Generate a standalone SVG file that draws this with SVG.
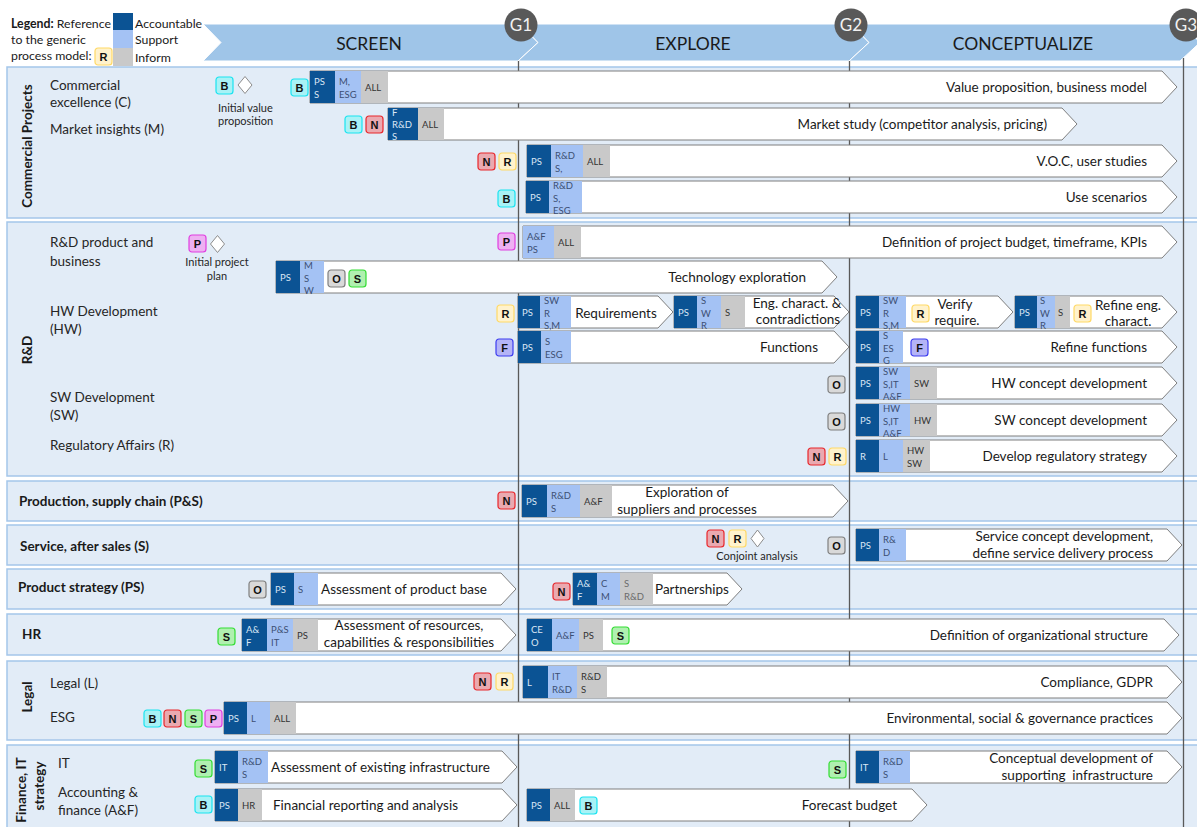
<svg xmlns="http://www.w3.org/2000/svg" width="1197" height="827" viewBox="0 0 1197 827">
<style>
text{font-family:Lato,"Liberation Sans",sans-serif}
.lane{fill:#e2ecf7;stroke:#a4c6ea;stroke-width:1.5}
.gl{stroke:#595959;stroke-width:1.3}
.bar{fill:#fff;stroke:#7f7f7f;stroke-width:1}
.a{fill:#0b5394}.s{fill:#a4c2f4}.i{fill:#c9c9c9}
.bt{font-size:9.5px}
.ta{fill:#dbe7f5}.ts{fill:#3c4f73}.ti{fill:#333}
.lbl{font-size:13.5px;fill:#1a1a1a}
.end{text-anchor:end}.mid{text-anchor:middle}
.row{font-size:13.5px;fill:#262626}
.lt{font-size:13.5px;font-weight:bold;fill:#1a1a1a}
.bd rect{stroke-width:1.2}
.bd text{font-family:"Liberation Sans",Arial,sans-serif;font-weight:bold;font-size:11px;text-anchor:middle;fill:#111}
.B rect{fill:#a8f2f6;stroke:#19e3f0}
.N rect{fill:#eaa9b0;stroke:#e8262b}
.R rect{fill:#fff2cc;stroke:#ffd966}
.P rect{fill:#eeb0f2;stroke:#e03ee0}
.S rect{fill:#b0f0b0;stroke:#33dd33}
.O rect{fill:#d9d9d9;stroke:#7f7f7f}
.F rect{fill:#b4b4f7;stroke:#3c3cf0}
.dia{fill:#fff;stroke:#8c8c8c;stroke-width:1}
.note{font-size:11px;fill:#262626}
.ph{font-size:17.5px;fill:#1a1a1a;text-anchor:middle}
.gate circle{fill:#595959}
.gate text{font-size:17px;fill:#f2f2f2;text-anchor:middle}
.lg{font-size:12.3px;fill:#1a1a1a}
</style>

<g id="legend">
<text class="lg" x="11" y="28"><tspan font-weight="bold">Legend:</tspan> Reference</text>
<text class="lg" x="11" y="44">to the generic</text>
<text class="lg" x="11" y="60">process model:</text>
<g class="bd R" transform="translate(95,48)"><rect width="17" height="17" rx="3"/><text x="8.5" y="12.5">R</text></g>
<rect class="a" x="113" y="13" width="20" height="17"/>
<rect class="s" x="113" y="30" width="20" height="18"/>
<rect class="i" x="113" y="48" width="20" height="18"/>
<text class="lg" x="135" y="28">Accountable</text>
<text class="lg" x="135" y="44">Support</text>
<text class="lg" x="135" y="62">Inform</text>
</g>

<g id="phases">
<polygon points="203,24 520,24 538,42.5 518,61 203,61 221,42.5" fill="#9fc5e8" stroke="#fff" stroke-width="1"/>
<polygon points="520,24 851,24 869,42.5 849,61 518,61 538,42.5" fill="#9fc5e8" stroke="#fff" stroke-width="1"/>
<polygon points="851,24 1182,24 1200,42.5 1180,61 849,61 869,42.5" fill="#9fc5e8" stroke="#fff" stroke-width="1"/>
<text class="ph" x="369" y="50">SCREEN</text>
<text class="ph" x="693" y="50">EXPLORE</text>
<text class="ph" x="1023" y="50">CONCEPTUALIZE</text>
</g>

<g id="lanes">
<rect class="lane" x="7" y="67" width="1195" height="151"/>
<rect class="lane" x="7" y="222" width="1195" height="254"/>
<rect class="lane" x="7" y="481" width="1195" height="40"/>
<rect class="lane" x="7" y="525" width="1195" height="40"/>
<rect class="lane" x="7" y="569" width="1195" height="40"/>
<rect class="lane" x="7" y="614" width="1195" height="41"/>
<rect class="lane" x="7" y="661" width="1195" height="79"/>
<rect class="lane" x="7" y="745" width="1195" height="90"/>
<text class="lt mid" transform="translate(32,146) rotate(-90)">Commercial Projects</text>
<text class="lt mid" transform="translate(32,350) rotate(-90)">R&amp;D</text>
<text class="lt mid" transform="translate(32,697) rotate(-90)">Legal</text>
<text class="lt mid" transform="translate(26,790) rotate(-90)">Finance, IT</text>
<text class="lt mid" transform="translate(44,786) rotate(-90)">strategy</text>
<text class="lt" x="19" y="506">Production, supply chain (P&amp;S)</text>
<text class="lt" x="20" y="551">Service, after sales (S)</text>
<text class="lt" x="18" y="592">Product strategy (PS)</text>
<text class="lt" x="22" y="639">HR</text>
<text class="row" x="50" y="90">Commercial</text>
<text class="row" x="50" y="107">excellence (C)</text>
<text class="row" x="50" y="134">Market insights (M)</text>
<text class="row" x="50" y="247">R&amp;D product and</text>
<text class="row" x="50" y="266">business</text>
<text class="row" x="50" y="316">HW Development</text>
<text class="row" x="50" y="334">(HW)</text>
<text class="row" x="50" y="402">SW Development</text>
<text class="row" x="50" y="420">(SW)</text>
<text class="row" x="50" y="450">Regulatory Affairs (R)</text>
<text class="row" x="50" y="688">Legal (L)</text>
<text class="row" x="50" y="722">ESG</text>
<text class="row" x="58" y="768">IT</text>
<text class="row" x="58" y="797">Accounting &amp;</text>
<text class="row" x="58" y="815">finance (A&amp;F)</text>
</g>

<g id="connectors">
<line class="gl" x1="518.5" y1="61" x2="518.5" y2="827"/>
<line class="gl" x1="849.5" y1="61" x2="849.5" y2="827"/>
<line class="gl" x1="1183.5" y1="58" x2="1183.5" y2="827"/>
</g>

<g id="t-value-prop">
<path class="bar" d="M310,71 H1162 L1177,87 L1162,103 H310 Z"/>
<rect class="a" x="310" y="71" width="25" height="32"/><rect class="s" x="335" y="71" width="26" height="32"/><rect class="i" x="361" y="71" width="27" height="32"/>
<text class="bt ta" x="314" y="85">PS</text><text class="bt ta" x="314" y="98">S</text>
<text class="bt ts" x="339" y="85">M,</text><text class="bt ts" x="339" y="98">ESG</text>
<text class="bt ti" x="365" y="91">ALL</text>
<text class="lbl end" x="1147" y="92">Value proposition, business model</text>
</g>
<g id="m-initial-value">
<g class="bd B" transform="translate(216,77)"><rect width="17" height="17" rx="3"/><text x="8.5" y="12.5">B</text></g>
<path class="dia" d="M245,76.5 L252,85 L245,93.5 L238,85 Z"/>
<text class="note" x="218" y="112">Initial value</text>
<text class="note" x="218" y="125">proposition</text>
</g>
<g id="b-vp" class="bd B" transform="translate(291,79)"><rect width="17" height="17" rx="3"/><text x="8.5" y="12.5">B</text></g>

<g id="t-market-study">
<path class="bar" d="M388,108 H1062 L1077,124 L1062,140 H388 Z"/>
<rect class="a" x="388" y="108" width="30" height="32"/><rect class="i" x="418" y="108" width="26" height="32"/>
<text class="bt ta" x="392" y="116">F</text><text class="bt ta" x="392" y="128">R&amp;D</text><text class="bt ta" x="392" y="140">S</text>
<text class="bt ti" x="422" y="128">ALL</text>
<text class="lbl end" x="1047" y="129">Market study (competitor analysis, pricing)</text>
</g>
<g id="b-ms">
<g class="bd B" transform="translate(345,116)"><rect width="17" height="17" rx="3"/><text x="8.5" y="12.5">B</text></g>
<g class="bd N" transform="translate(366,116)"><rect width="17" height="17" rx="3"/><text x="8.5" y="12.5">N</text></g>
</g>

<g id="t-voc">
<path class="bar" d="M527,145 H1162 L1177,161 L1162,177 H527 Z"/>
<rect class="a" x="527" y="145" width="24" height="32"/><rect class="s" x="551" y="145" width="32" height="32"/><rect class="i" x="583" y="145" width="27" height="32"/>
<text class="bt ta" x="531" y="165">PS</text>
<text class="bt ts" x="555" y="159">R&amp;D</text><text class="bt ts" x="555" y="172">S,</text>
<text class="bt ti" x="587" y="165">ALL</text>
<text class="lbl end" x="1147" y="166">V.O.C, user studies</text>
</g>
<g id="b-voc">
<g class="bd N" transform="translate(478,153)"><rect width="17" height="17" rx="3"/><text x="8.5" y="12.5">N</text></g>
<g class="bd R" transform="translate(499,153)"><rect width="17" height="17" rx="3"/><text x="8.5" y="12.5">R</text></g>
</g>

<g id="t-use-scen">
<path class="bar" d="M526,181 H1162 L1177,197 L1162,213 H526 Z"/>
<rect class="a" x="526" y="181" width="23" height="32"/><rect class="s" x="549" y="181" width="33" height="32"/>
<text class="bt ta" x="530" y="201">PS</text>
<text class="bt ts" x="553" y="189">R&amp;D</text><text class="bt ts" x="553" y="201.5">S,</text><text class="bt ts" x="553" y="214">ESG</text>
<text class="lbl end" x="1147" y="202">Use scenarios</text>
</g>
<g id="b-us" class="bd B" transform="translate(498,190)"><rect width="17" height="17" rx="3"/><text x="8.5" y="12.5">B</text></g>

<g id="t-budget">
<path class="bar" d="M523,226 H1162 L1177,242 L1162,258 H523 Z"/>
<rect class="s" x="523" y="226" width="31" height="32"/><rect class="i" x="554" y="226" width="27" height="32"/>
<text class="bt ts" x="527" y="240">A&amp;F</text><text class="bt ts" x="527" y="253">PS</text>
<text class="bt ti" x="558" y="246">ALL</text>
<text class="lbl end" x="1147" y="247">Definition of project budget, timeframe, KPIs</text>
</g>
<g id="m-initial-plan">
<g class="bd P" transform="translate(189,235)"><rect width="17" height="17" rx="3"/><text x="8.5" y="12.5">P</text></g>
<path class="dia" d="M217.5,235.5 L224.5,244 L217.5,252.5 L210.5,244 Z"/>
<text class="note mid" x="217" y="266">Initial project</text>
<text class="note mid" x="217" y="280">plan</text>
</g>
<g id="b-bud" class="bd P" transform="translate(498,233)"><rect width="17" height="17" rx="3"/><text x="8.5" y="12.5">P</text></g>

<g id="t-tech">
<path class="bar" d="M276,261 H822 L837,277 L822,293 H276 Z"/>
<rect class="a" x="276" y="261" width="24" height="32"/><rect class="s" x="300" y="261" width="24" height="32"/>
<text class="bt ta" x="280" y="281">PS</text>
<text class="bt ts" x="304" y="269">M</text><text class="bt ts" x="304" y="281.5">S</text><text class="bt ts" x="304" y="294">W</text>
<g class="bd O" transform="translate(328,270)"><rect width="17" height="17" rx="3"/><text x="8.5" y="12.5">O</text></g>
<g class="bd S" transform="translate(349,270)"><rect width="17" height="17" rx="3"/><text x="8.5" y="12.5">S</text></g>
<text class="lbl end" x="806" y="282">Technology exploration</text>
</g>

<g id="t-req">
<path class="bar" d="M518,296 H658 L673,312 L658,328 H518 Z"/>
<rect class="a" x="518" y="296" width="22" height="32"/><rect class="s" x="540" y="296" width="31" height="32"/>
<text class="bt ta" x="522" y="316">PS</text>
<text class="bt ts" x="544" y="304">SW</text><text class="bt ts" x="544" y="316.5">R</text><text class="bt ts" x="544" y="329">S,M</text>
<text class="lbl mid" x="616" y="318">Requirements</text>
</g>
<g id="b-req" class="bd R" transform="translate(497,305)"><rect width="17" height="17" rx="3"/><text x="8.5" y="12.5">R</text></g>

<g id="t-eng">
<path class="bar" d="M674,296 H834 L849,312 L834,328 H674 Z"/>
<rect class="a" x="674" y="296" width="23" height="32"/><rect class="s" x="697" y="296" width="24" height="32"/><rect class="i" x="721" y="296" width="24" height="32"/>
<text class="bt ta" x="678" y="316">PS</text>
<text class="bt ts" x="701" y="304">S</text><text class="bt ts" x="701" y="316.5">W</text><text class="bt ts" x="701" y="329">R</text>
<text class="bt ti" x="725" y="316">S</text>
<text class="lbl mid" x="797" y="308">Eng. charact. &amp;</text>
<text class="lbl mid" x="798" y="324">contradictions</text>
</g>

<g id="t-verify">
<path class="bar" d="M856,296 H998 L1013,312 L998,328 H856 Z"/>
<rect class="a" x="856" y="296" width="23" height="32"/><rect class="s" x="879" y="296" width="27" height="32"/>
<text class="bt ta" x="860" y="316">PS</text>
<text class="bt ts" x="883" y="304">SW</text><text class="bt ts" x="883" y="316.5">R</text><text class="bt ts" x="883" y="329">S,M</text>
<g class="bd R" transform="translate(912,305)"><rect width="17" height="17" rx="3"/><text x="8.5" y="12.5">R</text></g>
<text class="lbl mid" x="955" y="309">Verify</text>
<text class="lbl mid" x="957" y="325">require.</text>
</g>

<g id="t-refine-eng">
<path class="bar" d="M1015,296 H1162 L1177,312 L1162,328 H1015 Z"/>
<rect class="a" x="1015" y="296" width="22" height="32"/><rect class="s" x="1037" y="296" width="18" height="32"/><rect class="i" x="1055" y="296" width="15" height="32"/>
<text class="bt ta" x="1019" y="316">PS</text>
<text class="bt ts" x="1040" y="304">S</text><text class="bt ts" x="1040" y="316.5">W</text><text class="bt ts" x="1040" y="329">R</text>
<text class="bt ti" x="1058" y="316">S</text>
<g class="bd R" transform="translate(1074,305)"><rect width="17" height="17" rx="3"/><text x="8.5" y="12.5">R</text></g>
<text class="lbl mid" x="1128" y="310">Refine eng.</text>
<text class="lbl mid" x="1128" y="326">charact.</text>
</g>

<g id="t-functions">
<path class="bar" d="M518,331 H834 L849,347 L834,363 H518 Z"/>
<rect class="a" x="518" y="331" width="23" height="32"/><rect class="s" x="541" y="331" width="30" height="32"/>
<text class="bt ta" x="522" y="351">PS</text>
<text class="bt ts" x="545" y="345">S</text><text class="bt ts" x="545" y="358">ESG</text>
<text class="lbl end" x="818" y="352">Functions</text>
</g>
<g id="b-fn" class="bd F" transform="translate(496,339)"><rect width="17" height="17" rx="3"/><text x="8.5" y="12.5">F</text></g>

<g id="t-refine-fn">
<path class="bar" d="M856,331 H1162 L1177,347 L1162,363 H856 Z"/>
<rect class="a" x="856" y="331" width="23" height="32"/><rect class="s" x="879" y="331" width="24" height="32"/>
<text class="bt ta" x="860" y="351">PS</text>
<text class="bt ts" x="883" y="339">S</text><text class="bt ts" x="883" y="351.5">ES</text><text class="bt ts" x="883" y="364">G</text>
<g class="bd F" transform="translate(911,339)"><rect width="17" height="17" rx="3"/><text x="8.5" y="12.5">F</text></g>
<text class="lbl end" x="1147" y="352">Refine functions</text>
</g>

<g id="t-hw-concept">
<path class="bar" d="M856,367 H1162 L1177,383 L1162,399 H856 Z"/>
<rect class="a" x="856" y="367" width="23" height="32"/><rect class="s" x="879" y="367" width="31" height="32"/><rect class="i" x="910" y="367" width="27" height="32"/>
<text class="bt ta" x="860" y="387">PS</text>
<text class="bt ts" x="883" y="375">SW</text><text class="bt ts" x="883" y="387.5">S,IT</text><text class="bt ts" x="883" y="400">A&amp;F</text>
<text class="bt ti" x="914" y="387">SW</text>
<text class="lbl end" x="1147" y="388">HW concept development</text>
</g>
<g id="b-hwc" class="bd O" transform="translate(828,376)"><rect width="17" height="17" rx="3"/><text x="8.5" y="12.5">O</text></g>

<g id="t-sw-concept">
<path class="bar" d="M856,404 H1162 L1177,420 L1162,436 H856 Z"/>
<rect class="a" x="856" y="404" width="23" height="32"/><rect class="s" x="879" y="404" width="31" height="32"/><rect class="i" x="910" y="404" width="27" height="32"/>
<text class="bt ta" x="860" y="424">PS</text>
<text class="bt ts" x="883" y="412">HW</text><text class="bt ts" x="883" y="424.5">S,IT</text><text class="bt ts" x="883" y="437">A&amp;F</text>
<text class="bt ti" x="914" y="424">HW</text>
<text class="lbl end" x="1147" y="425">SW concept development</text>
</g>
<g id="b-swc" class="bd O" transform="translate(828,413)"><rect width="17" height="17" rx="3"/><text x="8.5" y="12.5">O</text></g>

<g id="t-reg">
<path class="bar" d="M856,440 H1162 L1177,456 L1162,472 H856 Z"/>
<rect class="a" x="856" y="440" width="23" height="32"/><rect class="s" x="879" y="440" width="24" height="32"/><rect class="i" x="903" y="440" width="27" height="32"/>
<text class="bt ta" x="860" y="460">R</text>
<text class="bt ts" x="883" y="460">L</text>
<text class="bt ti" x="907" y="454">HW</text><text class="bt ti" x="907" y="467">SW</text>
<text class="lbl end" x="1147" y="461">Develop regulatory strategy</text>
</g>
<g id="b-reg">
<g class="bd N" transform="translate(808,448)"><rect width="17" height="17" rx="3"/><text x="8.5" y="12.5">N</text></g>
<g class="bd R" transform="translate(829,448)"><rect width="17" height="17" rx="3"/><text x="8.5" y="12.5">R</text></g>
</g>

<g id="t-suppliers">
<path class="bar" d="M522,485 H833 L848,501 L833,517 H522 Z"/>
<rect class="a" x="522" y="485" width="25" height="32"/><rect class="s" x="547" y="485" width="33" height="32"/><rect class="i" x="580" y="485" width="32" height="32"/>
<text class="bt ta" x="526" y="505">PS</text>
<text class="bt ts" x="551" y="499">R&amp;D</text><text class="bt ts" x="551" y="512">S</text>
<text class="bt ti" x="584" y="505">A&amp;F</text>
<text class="lbl mid" x="687" y="497">Exploration of</text>
<text class="lbl mid" x="687" y="514">suppliers and processes</text>
</g>
<g id="b-sup" class="bd N" transform="translate(498,492)"><rect width="17" height="17" rx="3"/><text x="8.5" y="12.5">N</text></g>

<g id="m-conjoint">
<g class="bd N" transform="translate(707,530)"><rect width="17" height="17" rx="3"/><text x="8.5" y="12.5">N</text></g>
<g class="bd R" transform="translate(729,530)"><rect width="17" height="17" rx="3"/><text x="8.5" y="12.5">R</text></g>
<path class="dia" d="M757.5,530 L764,538.5 L757.5,547 L751,538.5 Z"/>
<text class="note mid" x="757" y="560">Conjoint analysis</text>
</g>
<g id="b-svc" class="bd O" transform="translate(828,537)"><rect width="17" height="17" rx="3"/><text x="8.5" y="12.5">O</text></g>
<g id="t-service">
<path class="bar" d="M856,529 H1167 L1182,545 L1167,561 H856 Z"/>
<rect class="a" x="856" y="529" width="23" height="32"/><rect class="s" x="879" y="529" width="27" height="32"/>
<text class="bt ta" x="860" y="549">PS</text>
<text class="bt ts" x="883" y="543">R&amp;</text><text class="bt ts" x="883" y="556">D</text>
<text class="lbl end" x="1153" y="541">Service concept development,</text>
<text class="lbl end" x="1153" y="558">define service delivery process</text>
</g>

<g id="b-ps" class="bd O" transform="translate(249,581)"><rect width="17" height="17" rx="3"/><text x="8.5" y="12.5">O</text></g>
<g id="t-product-base">
<path class="bar" d="M271,573 H501 L516,589 L501,605 H271 Z"/>
<rect class="a" x="271" y="573" width="23" height="32"/><rect class="s" x="294" y="573" width="24" height="32"/>
<text class="bt ta" x="275" y="593">PS</text>
<text class="bt ts" x="298" y="593">S</text>
<text class="lbl" x="321" y="594">Assessment of product base</text>
</g>
<g id="b-part" class="bd N" transform="translate(553,583)"><rect width="17" height="17" rx="3"/><text x="8.5" y="12.5">N</text></g>
<g id="t-partnerships">
<path class="bar" d="M573,573 H727 L742,589 L727,605 H573 Z"/>
<rect class="a" x="573" y="573" width="24" height="32"/><rect class="s" x="597" y="573" width="23" height="32"/><rect class="i" x="620" y="573" width="33" height="32"/>
<text class="bt ta" x="577" y="587">A&amp;</text><text class="bt ta" x="577" y="600">F</text>
<text class="bt ts" x="601" y="587">C</text><text class="bt ts" x="601" y="600">M</text>
<text class="bt" x="624" y="587" fill="#6b6b6b">S</text><text class="bt" x="624" y="600" fill="#6b6b6b">R&amp;D</text>
<text class="lbl" x="655" y="594">Partnerships</text>
</g>

<g id="b-hr" class="bd S" transform="translate(218,628)"><rect width="17" height="17" rx="3"/><text x="8.5" y="12.5">S</text></g>
<g id="t-resources">
<path class="bar" d="M242,619 H501 L516,635 L501,651 H242 Z"/>
<rect class="a" x="242" y="619" width="25" height="32"/><rect class="s" x="267" y="619" width="26" height="32"/><rect class="i" x="293" y="619" width="25" height="32"/>
<text class="bt ta" x="246" y="633">A&amp;</text><text class="bt ta" x="246" y="646">F</text>
<text class="bt ts" x="271" y="633">P&amp;S</text><text class="bt ts" x="271" y="646">IT</text>
<text class="bt ti" x="297" y="639">PS</text>
<text class="lbl mid" x="409" y="630">Assessment of resources,</text>
<text class="lbl mid" x="409" y="647">capabilities &amp; responsibilities</text>
</g>
<g id="t-org">
<path class="bar" d="M527,619 H1164 L1179,635 L1164,651 H527 Z"/>
<rect class="a" x="527" y="619" width="25" height="32"/><rect class="s" x="552" y="619" width="27" height="32"/><rect class="i" x="579" y="619" width="24" height="32"/>
<text class="bt ta" x="531" y="633">CE</text><text class="bt ta" x="531" y="646">O</text>
<text class="bt ts" x="556" y="639">A&amp;F</text>
<text class="bt ti" x="583" y="639">PS</text>
<g class="bd S" transform="translate(612,627)"><rect width="17" height="17" rx="3"/><text x="8.5" y="12.5">S</text></g>
<text class="lbl end" x="1148" y="640">Definition of organizational structure</text>
</g>

<g id="b-legal">
<g class="bd N" transform="translate(474,673)"><rect width="17" height="17" rx="3"/><text x="8.5" y="12.5">N</text></g>
<g class="bd R" transform="translate(496,673)"><rect width="17" height="17" rx="3"/><text x="8.5" y="12.5">R</text></g>
</g>
<g id="t-compliance">
<path class="bar" d="M523,666 H1167 L1182,682 L1167,698 H523 Z"/>
<rect class="a" x="523" y="666" width="25" height="32"/><rect class="s" x="548" y="666" width="29" height="32"/><rect class="i" x="577" y="666" width="30" height="32"/>
<text class="bt ta" x="527" y="686">L</text>
<text class="bt ts" x="552" y="680">IT</text><text class="bt ts" x="552" y="693">R&amp;D</text>
<text class="bt ti" x="581" y="680">R&amp;D</text><text class="bt ti" x="581" y="693">S</text>
<text class="lbl end" x="1153" y="687">Compliance, GDPR</text>
</g>
<g id="b-esg">
<g class="bd B" transform="translate(144,710)"><rect width="17" height="17" rx="3"/><text x="8.5" y="12.5">B</text></g>
<g class="bd N" transform="translate(164,710)"><rect width="17" height="17" rx="3"/><text x="8.5" y="12.5">N</text></g>
<g class="bd S" transform="translate(185,710)"><rect width="17" height="17" rx="3"/><text x="8.5" y="12.5">S</text></g>
<g class="bd P" transform="translate(205,710)"><rect width="17" height="17" rx="3"/><text x="8.5" y="12.5">P</text></g>
</g>
<g id="t-esg">
<path class="bar" d="M224,702 H1167 L1182,718 L1167,734 H224 Z"/>
<rect class="a" x="224" y="702" width="23" height="32"/><rect class="s" x="247" y="702" width="23" height="32"/><rect class="i" x="270" y="702" width="26" height="32"/>
<text class="bt ta" x="228" y="722">PS</text>
<text class="bt ts" x="251" y="722">L</text>
<text class="bt ti" x="274" y="722">ALL</text>
<text class="lbl end" x="1153" y="723">Environmental, social &amp; governance practices</text>
</g>

<g id="b-it" class="bd S" transform="translate(195,760)"><rect width="17" height="17" rx="3"/><text x="8.5" y="12.5">S</text></g>
<g id="t-infra">
<path class="bar" d="M215,751 H502 L517,767 L502,783 H215 Z"/>
<rect class="a" x="215" y="751" width="23" height="32"/><rect class="s" x="238" y="751" width="30" height="32"/>
<text class="bt ta" x="219" y="771">IT</text>
<text class="bt ts" x="242" y="765">R&amp;D</text><text class="bt ts" x="242" y="778">S</text>
<text class="lbl" x="271" y="772">Assessment of existing infrastructure</text>
</g>
<g id="b-fin" class="bd B" transform="translate(195,796)"><rect width="17" height="17" rx="3"/><text x="8.5" y="12.5">B</text></g>
<g id="t-fin-report">
<path class="bar" d="M215,789 H502 L517,805 L502,821 H215 Z"/>
<rect class="a" x="215" y="789" width="23" height="32"/><rect class="i" x="238" y="789" width="24" height="32"/>
<text class="bt ta" x="219" y="809">PS</text>
<text class="bt ti" x="242" y="809">HR</text>
<text class="lbl" x="273" y="810">Financial reporting and analysis</text>
</g>
<g id="b-cinf" class="bd S" transform="translate(829,761)"><rect width="17" height="17" rx="3"/><text x="8.5" y="12.5">S</text></g>
<g id="t-concept-infra">
<path class="bar" d="M856,751 H1167 L1182,767 L1167,783 H856 Z"/>
<rect class="a" x="856" y="751" width="23" height="32"/><rect class="s" x="879" y="751" width="31" height="32"/>
<text class="bt ta" x="860" y="771">IT</text>
<text class="bt ts" x="883" y="765">R&amp;D</text><text class="bt ts" x="883" y="778">S</text>
<text class="lbl end" x="1153" y="763">Conceptual development of</text>
<text class="lbl end" x="1153" y="780" xml:space="preserve">supporting  infrastructure</text>
</g>
<g id="t-forecast">
<path class="bar" d="M527,789 H912 L927,805 L912,821 H527 Z"/>
<rect class="a" x="527" y="789" width="23" height="32"/><rect class="i" x="550" y="789" width="25" height="32"/>
<text class="bt ta" x="531" y="809">PS</text>
<text class="bt ti" x="554" y="809">ALL</text>
<g class="bd B" transform="translate(580,797)"><rect width="17" height="17" rx="3"/><text x="8.5" y="12.5">B</text></g>
<text class="lbl end" x="897" y="810">Forecast budget</text>
</g>

<g id="gates">
<g class="gate" id="g1"><circle cx="521" cy="25" r="16.5"/><text x="521" y="31">G1</text></g>
<g class="gate" id="g2"><circle cx="851" cy="25" r="16.5"/><text x="851" y="31">G2</text></g>
<g class="gate" id="g3"><circle cx="1186" cy="25" r="16.5"/><text x="1186" y="31">G3</text></g>
</g>
</svg>
